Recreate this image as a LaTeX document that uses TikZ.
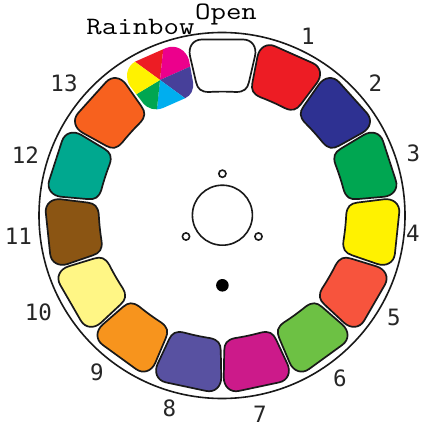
\documentclass[tikz,border=0pt]{standalone}
\usepackage{fontspec}
\newfontfamily\digitfont{DejaVu Sans Mono}
\definecolor{c1}{HTML}{ED1C24}
\definecolor{c2}{HTML}{2E3192}
\definecolor{c3}{HTML}{00A651}
\definecolor{c4}{HTML}{FFF200}
\definecolor{c5}{HTML}{F7543D}
\definecolor{c6}{HTML}{6DC144}
\definecolor{c7}{HTML}{CC1A8A}
\definecolor{c8}{HTML}{5851A1}
\definecolor{c9}{HTML}{F7941D}
\definecolor{c10}{HTML}{FFF685}
\definecolor{c11}{HTML}{8B5513}
\definecolor{c12}{HTML}{00A88F}
\definecolor{c13}{HTML}{F7611E}
\definecolor{rbm}{HTML}{EC008C}
\definecolor{rbp}{HTML}{47409A}
\definecolor{rbc}{HTML}{00AEEF}
\newcommand{\tileoutline}{(190,56) .. controls (188,47) and (193,39.5) .. (202,39.5) .. controls (215,39.5) and (230,39.5) .. (243,39.5) .. controls (252,39.5) and (257,47) .. (255,56) -- (249,82) .. controls (247.4,89) and (244,92) .. (236,92) .. controls (227,91.5) and (218,91.5) .. (209,92) .. controls (201,92) and (197.6,89) .. (196,82) -- cycle}
\tikzset{
  rim/.style={draw=black!90,line width=1.6pt},
  tileedge/.style={draw=black!90,line width=1.7pt},
  numlabel/.style={font=\digitfont\fontsize{22.5}{23}\selectfont,text=black!85,inner sep=0pt},
  wordlabel/.style={font=\ttfamily\fontsize{25}{25}\selectfont,text=black,inner sep=0pt,xscale=1.2,transform shape},
}
\begin{document}
\begin{tikzpicture}[x=1pt,y=-1pt]
\useasboundingbox (0,0) rectangle (420,427);
\fill[white] (0,0) rectangle (420,427);
\draw[rim] (222,215.5) circle[radius=183];
% colour tiles, clockwise from the open slot
\draw[tileedge,fill=white] \tileoutline;
\foreach \k in {1,...,13}{
  \begin{scope}[rotate around={-24*\k:(222.5,215)}]
    \draw[tileedge,fill=c\k] \tileoutline;
  \end{scope}
}
% rainbow tile
\begin{scope}
  \clip (135,61.7) -- (166,48) .. controls (176,44) and (186,50) .. (189,60) -- (193,82) .. controls (194,90) and (191,95.5) .. (185,98.3) -- (163,108) .. controls (155,111) and (148,109) .. (143,103) -- (130,86) .. controls (125,78) and (126,67) .. (135,61.7) -- cycle;
  \fill[c1]  (160,80) -- (111.5,44.7) -- (166.3,20.3) -- cycle;
  \fill[rbm] (160,80) -- (166.3,20.3) -- (214.8,55.6) -- cycle;
  \fill[rbp] (160,80) -- (214.8,55.6) -- (208.5,115.3) -- cycle;
  \fill[rbc] (160,80) -- (208.5,115.3) -- (153.7,139.7) -- cycle;
  \fill[c3]  (160,80) -- (153.7,139.7) -- (108.6,110.9) -- cycle;
  \fill[c4]  (160,80) -- (108.6,110.9) -- (111.5,44.7) -- cycle;
\end{scope}
% hub
\draw[rim] (222.4,215.2) circle[radius=30];
\draw[rim] (222.4,173.7) circle[radius=3.6];
\draw[rim] (186,236.5) circle[radius=3.6];
\draw[rim] (258.5,236.5) circle[radius=3.6];
\fill[black] (222.4,285.3) circle[radius=6.3];
% labels
\node[wordlabel] (rainbow) at (140.5,27) {Rainbow};
\node[wordlabel] (open) at (226,14) {Open};
\node[numlabel] (n1) at (308,36.5) {1};
\node[numlabel] (n2) at (375.5,83.5) {2};
\node[numlabel] (n3) at (413.5,153) {3};
\node[numlabel] (n4) at (413,233) {4};
\node[numlabel] (n5) at (394,317) {5};
\node[numlabel] (n6) at (340,378) {6};
\node[numlabel] (n7) at (260,414) {7};
\node[numlabel] (n8) at (169.5,408) {8};
\node[numlabel] (n9) at (97,372) {9};
\node[numlabel] (n10) at (38.5,312) {10};
\node[numlabel] (n11) at (18.5,236) {11};
\node[numlabel] (n12) at (25.5,155) {12};
\node[numlabel] (n13) at (64,83) {13};
\end{tikzpicture}
\end{document}
